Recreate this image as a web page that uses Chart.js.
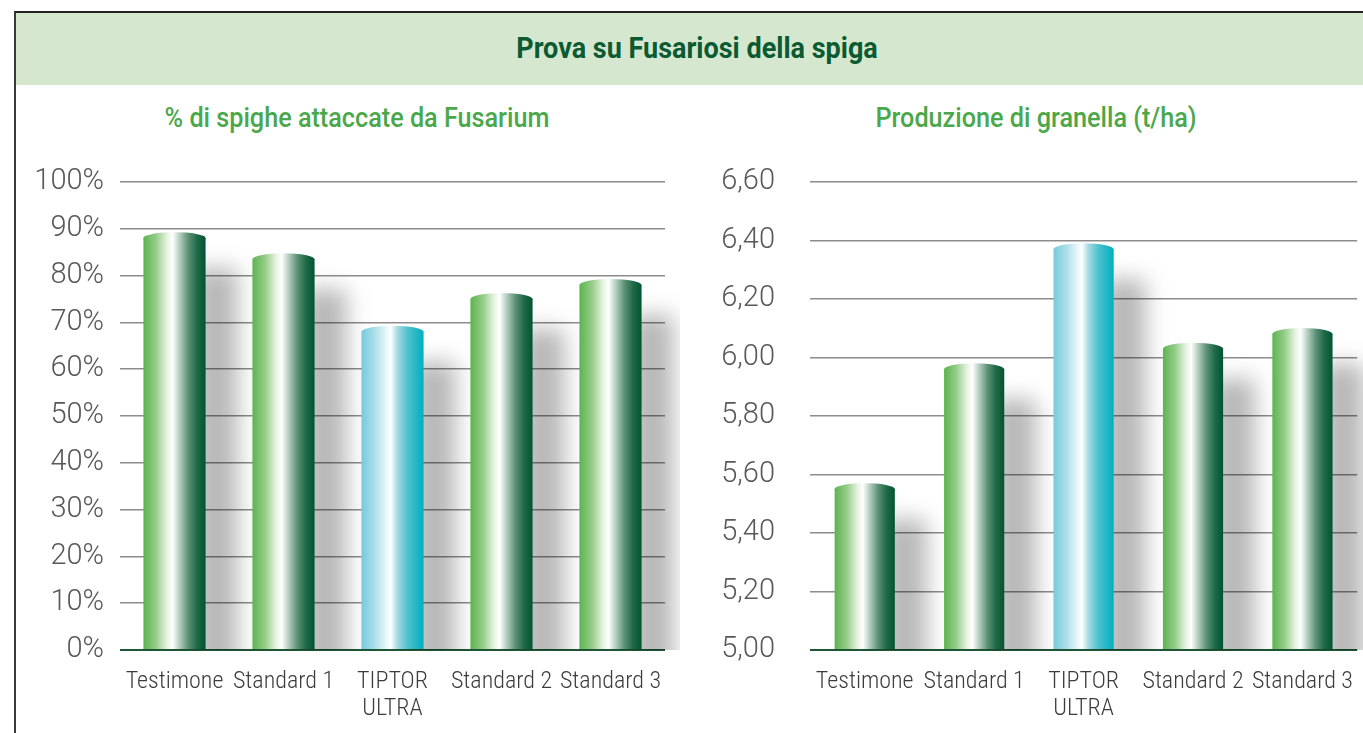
<!DOCTYPE html>
<html>
<head>
<meta charset="utf-8">
<script src="https://cdn.jsdelivr.net/npm/chart.js@4"></script>
<style>
  body { margin: 0; background: #fff; width: 1363px; height: 733px; overflow: hidden; position: relative; font-family: Roboto, "Liberation Sans", sans-serif; }
  #frame { position: absolute; left: 14px; top: 11px; width: 1349px; height: 722px; border-left: 2px solid #3a3a3a; border-top: 2px solid #222; }
  #head { position: absolute; left: 0; top: 0; width: 100%; height: 72px; background: #d5e8cf; }
  .txt { position: absolute; white-space: nowrap; text-align: center; transform-origin: center; }
  #title { left: 447px; width: 500px; top: 30px; font-size: 30px; font-weight: 700; color: #0b5a32; transform: scaleX(0.9); }
  .sub { top: 101px; width: 500px; font-size: 28px; font-weight: 500; color: #4aa84a; transform: scaleX(0.9); }
  canvas { position: absolute; top: 160px; }
</style>
</head>
<body>
<div id="frame"><div id="head"></div></div>
<div id="title" class="txt">Prova su Fusariosi della spiga</div>
<div class="txt sub" style="left:107px">% di spighe attaccate da Fusarium</div>
<div class="txt sub" style="left:786px">Produzione di granella (t/ha)</div>
<canvas id="left-chart" width="680" height="573" style="left:0px"></canvas>
<canvas id="right-chart" width="673" height="573" style="left:690px"></canvas>
<script>
const categories = ["Testimone", "Standard 1", ["TIPTOR", "ULTRA"], "Standard 2", "Standard 3"];
const fusariumPct = [88, 83.5, 68, 75, 78];
const yieldTha = [5.55, 5.96, 6.37, 6.03, 6.08];
const tubeKinds = ["green", "green", "cyan", "green", "green"];

const pctTicks = { min: 0, max: 100, step: 10 };
const yieldTicks = { min: 5.0, max: 6.6, step: 0.2 };

const stops = {
  green: [[0, "#5cb450"], [0.2, "#95cc88"], [0.38, "#e6f3e1"], [0.47, "#ffffff"], [0.58, "#b5cfc1"], [0.72, "#5e9278"], [0.86, "#1f6a48"], [1, "#005432"]],
  cyan: [[0, "#78cadb"], [0.2, "#a8dde8"], [0.4, "#e8f7fa"], [0.47, "#ffffff"], [0.58, "#a6dbe3"], [0.75, "#4cc0cd"], [1, "#00afc0"]]
};

// draws soft shadows before the bars and the cylinders after
const cylinders = {
  id: "cylinders",
  beforeDatasetsDraw(chart) {
    const ctx = chart.ctx;
    const area = chart.chartArea;
    ctx.save();
    ctx.beginPath();
    ctx.rect(area.left, area.top - 30, chart.width, area.bottom - area.top + 30);
    ctx.clip();
    chart.getDatasetMeta(0).data.forEach((bar) => {
      const p = bar.getProps(["x", "y", "base", "width"], true);
      const right = p.x + p.width / 2;
      ctx.filter = "blur(11px)";
      ctx.fillStyle = "rgba(0,0,0,0.28)";
      ctx.fillRect(right - 12, p.y + 30, 44, p.base - p.y + 40);
    });
    ctx.restore();
  },
  afterDatasetsDraw(chart) {
    const ctx = chart.ctx;
    chart.getDatasetMeta(0).data.forEach((bar, i) => {
      const p = bar.getProps(["x", "y", "base", "width"], true);
      const left = p.x - p.width / 2;
      const right = p.x + p.width / 2;
      const g = ctx.createLinearGradient(left, 0, right, 0);
      stops[tubeKinds[i]].forEach((s) => g.addColorStop(s[0], s[1]));
      ctx.save();
      ctx.fillStyle = g;
      ctx.fillRect(left, p.y, p.width, p.base - p.y);
      ctx.beginPath();
      ctx.ellipse(p.x, p.y, p.width / 2, 6, 0, 0, Math.PI * 2);
      ctx.fill();
      ctx.restore();
    });
  }
};

function makeChart(id, values, ticks, fmt, labelPad, padRight, barPct) {
  return new Chart(document.getElementById(id), {
    type: "bar",
    data: {
      labels: categories,
      datasets: [{ data: values, base: ticks.min, backgroundColor: "transparent", borderWidth: 0, categoryPercentage: 1, barPercentage: barPct }]
    },
    options: {
      responsive: false,
      devicePixelRatio: 1,
      animation: false,
      layout: { padding: { top: 22, right: padRight, left: 0, bottom: 0 } },
      plugins: { legend: { display: false }, tooltip: { enabled: false } },
      scales: {
        x: {
          grid: { display: false },
          border: { display: false },
          ticks: { color: "#3c3c3c", padding: 10, maxRotation: 0, autoSkip: false, font: { family: "Roboto, sans-serif", size: 24, weight: "300 condensed", lineHeight: 1.15 } },
          afterFit(scale) { scale.height = 83; }
        },
        y: {
          min: ticks.min,
          max: ticks.max,
          border: { display: false },
          grid: {
            drawTicks: false,
            color: (c) => (c.index === 0 ? "#1e5535" : "#8c8c8c"),
            lineWidth: (c) => (c.index === 0 ? 2 : 1.5)
          },
          ticks: { stepSize: ticks.step, padding: labelPad, color: "#585858", font: { family: "Roboto, sans-serif", size: 29, weight: "300" }, callback: fmt },
          afterFit(scale) {
            scale.width = 120;
            scale.paddingTop = 0;
            scale.paddingBottom = 0;
          }
        }
      }
    },
    plugins: [cylinders]
  });
}

makeChart("left-chart", fusariumPct, pctTicks, (v) => v + "%", 16, 15, 0.57);
makeChart("right-chart", yieldTha, yieldTicks, (v) => v.toFixed(2).replace(".", ","), 35, 0, 0.55);
</script>
</body>
</html>
